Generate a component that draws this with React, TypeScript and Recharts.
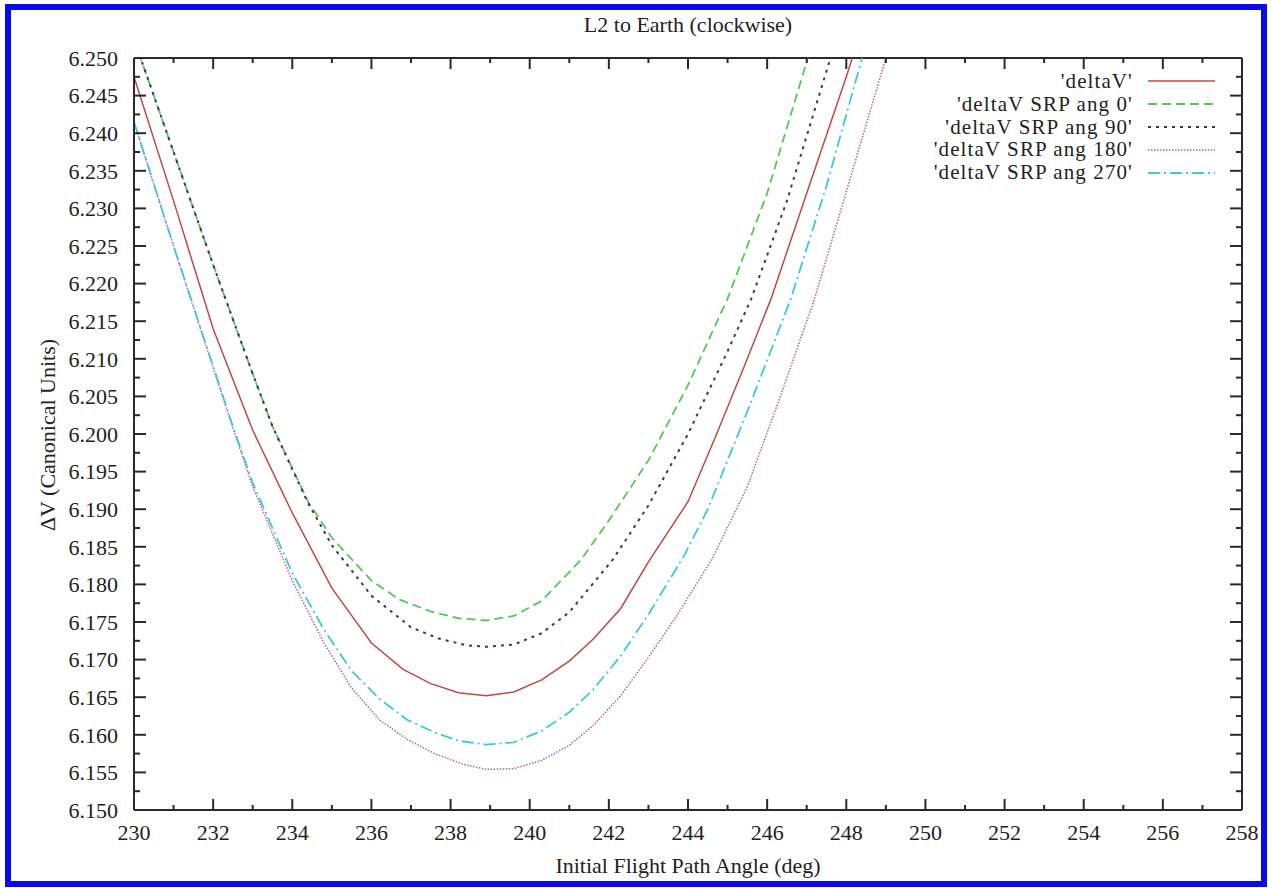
import React from 'react';
import { LineChart, Line, XAxis, YAxis, ReferenceLine, Legend } from 'recharts';

// chart values
const deltaVAngles = [230, 231, 232, 233, 234, 235, 236, 236.8, 237.5, 238.2, 238.9, 239.6, 240.3, 241.0, 241.6, 242.3, 243.0, 244.0, 244.7, 245.4, 246.1, 247.0, 248.0, 248.2];
const deltaVValues = [6.2475, 6.231, 6.214, 6.2005, 6.1895, 6.1795, 6.1722, 6.1687, 6.1668, 6.1656, 6.1652, 6.1657, 6.1673, 6.1698, 6.1727, 6.1768, 6.183, 6.191, 6.1997, 6.2087, 6.218, 6.232, 6.2475, 6.2508];

const srp0Angles = [230, 231, 232, 233, 233.5, 234.4, 235, 236, 236.7, 237.5, 238.2, 238.9, 239.6, 240.3, 241.3, 242, 243, 244, 245, 246, 247, 247.2];
const srp0Values = [6.2525, 6.2375, 6.2225, 6.208, 6.201, 6.191, 6.1862, 6.1805, 6.178, 6.1764, 6.1755, 6.1752, 6.1758, 6.1778, 6.1833, 6.1885, 6.1965, 6.2065, 6.218, 6.232, 6.2495, 6.2535];

const srp90Angles = [230, 231, 232, 233, 233.5, 234.4, 235, 236, 237, 237.7, 238.4, 238.9, 239.6, 240.3, 241, 242.1, 243, 244, 245, 245.6, 246.5, 247.6, 247.8];
const srp90Values = [6.2525, 6.2375, 6.2225, 6.208, 6.201, 6.1908, 6.1852, 6.1785, 6.1743, 6.1728, 6.1719, 6.1717, 6.172, 6.1735, 6.1763, 6.1833, 6.1905, 6.2, 6.211, 6.218, 6.231, 6.25, 6.2535];

const srp180Angles = [230, 231, 232, 232.5, 233, 234, 234.8, 235.5, 236.2, 236.9, 237.6, 238.3, 238.9, 239.6, 240.3, 241, 241.6, 242.3, 243, 243.7, 244.6, 245.5, 246.3, 247.2, 248.1, 249, 249.2];
const srp180Values = [6.2415, 6.225, 6.2088, 6.2008, 6.193, 6.1805, 6.1722, 6.1662, 6.162, 6.1594, 6.1575, 6.1561, 6.1554, 6.1555, 6.1566, 6.1586, 6.1612, 6.1652, 6.1703, 6.1757, 6.1833, 6.193, 6.2045, 6.218, 6.234, 6.25, 6.2535];

const srp270Angles = [230, 231, 232, 232.5, 233, 234, 234.8, 235.5, 236.2, 236.9, 237.6, 238.2, 238.9, 239.6, 240.3, 241, 241.6, 242.3, 243, 243.9, 244.5, 245.5, 246.6, 247.5, 248.4, 248.6];
const srp270Values = [6.2415, 6.225, 6.209, 6.201, 6.1935, 6.1815, 6.174, 6.1685, 6.1648, 6.162, 6.1603, 6.1592, 6.1587, 6.159, 6.1605, 6.163, 6.166, 6.1705, 6.176, 6.1838, 6.19, 6.203, 6.218, 6.233, 6.25, 6.2535];

const xTicks = [230, 231, 232, 233, 234, 235, 236, 237, 238, 239, 240, 241, 242, 243, 244, 245, 246, 247, 248, 249, 250, 251, 252, 253, 254, 255, 256, 257, 258];
const yTicks = [
  6.15, 6.1525, 6.155, 6.1575, 6.16, 6.1625, 6.165, 6.1675, 6.17, 6.1725,
  6.175, 6.1775, 6.18, 6.1825, 6.185, 6.1875, 6.19, 6.1925, 6.195, 6.1975,
  6.2, 6.2025, 6.205, 6.2075, 6.21, 6.2125, 6.215, 6.2175, 6.22, 6.2225,
  6.225, 6.2275, 6.23, 6.2325, 6.235, 6.2375, 6.24, 6.2425, 6.245, 6.2475, 6.25,
];

const toPoints = (xs: number[], ys: number[]) => xs.map((x, i) => ({ x, y: ys[i] }));

const series = [
  { name: "'deltaV'", data: toPoints(deltaVAngles, deltaVValues), color: '#bf4a44', dash: undefined, width: 1.5 },
  { name: "'deltaV SRP ang 0'", data: toPoints(srp0Angles, srp0Values), color: '#55c855', dash: '9 5', width: 1.8 },
  { name: "'deltaV SRP ang 90'", data: toPoints(srp90Angles, srp90Values), color: '#3a3a5a', dash: '3 5', width: 2 },
  { name: "'deltaV SRP ang 180'", data: toPoints(srp180Angles, srp180Values), color: '#b060b0', dash: '1.5 1.5', width: 1.5 },
  { name: "'deltaV SRP ang 270'", data: toPoints(srp270Angles, srp270Values), color: '#40c8d8', dash: '12 4 2 4', width: 1.8 },
];

const W = 1272;
const H = 888;
const plot = { left: 134, top: 58, right: 1242, bottom: 810 };
const plotW = plot.right - plot.left;
const plotH = plot.bottom - plot.top;
const font = 'Liberation Serif, Times New Roman, serif';
const axisColor = '#2a2a2a';

const XTick = ({ x, y, payload }: any) => {
  const v = payload.value;
  const major = v % 2 === 0;
  const len = major ? 11 : 5;
  return (
    <g>
      <line x1={x} x2={x} y1={y} y2={y - len} stroke={axisColor} strokeWidth={2} />
      <line x1={x} x2={x} y1={y - plotH} y2={y - plotH + len} stroke={axisColor} strokeWidth={2} />
      {major && (
        <text x={x} y={y + 30} textAnchor="middle" fontFamily={font} fontSize={22} fill="#222">
          {v}
        </text>
      )}
    </g>
  );
};

const YTick = ({ x, y, payload }: any) => {
  const v = payload.value;
  const k = Math.round((v - 6.15) / 0.0025);
  const major = k % 2 === 0;
  const len = major ? 12 : 6;
  return (
    <g>
      <line x1={x} x2={x + len} y1={y} y2={y} stroke={axisColor} strokeWidth={2} />
      <line x1={x + plotW} x2={x + plotW - len} y1={y} y2={y} stroke={axisColor} strokeWidth={2} />
      {major && (
        <text x={x - 16} y={y} dy="0.35em" textAnchor="end" fontFamily={font} fontSize={22} fill="#222">
          {v.toFixed(3)}
        </text>
      )}
    </g>
  );
};

const LegendBox = () => (
  <div style={{ fontFamily: font, fontSize: 21, color: '#222' }}>
    {series.map((s) => (
      <div
        key={s.name}
        style={{ display: 'flex', alignItems: 'center', justifyContent: 'flex-end', height: 22.8, whiteSpace: 'nowrap' }}
      >
        <span style={{ fontFamily: font, fontSize: 21, letterSpacing: '1.1px' }}>{s.name}</span>
        <svg width={82} height={10} style={{ display: 'block' }}>
          <line x1={15} x2={82} y1={5} y2={5} stroke={s.color} strokeWidth={s.width} strokeDasharray={s.dash} />
        </svg>
      </div>
    ))}
  </div>
);

const App = () => {
  return (
    <div style={{ position: 'absolute', left: 0, top: 0, width: W, height: H, background: '#fff' }}>
      <div
        style={{
          position: 'absolute',
          left: 5,
          top: 4,
          width: 1262,
          height: 883,
          border: '6px solid #0a0aee',
          boxSizing: 'border-box',
        }}
      />
      <div
        style={{
          position: 'absolute',
          left: plot.left,
          width: plotW,
          top: 12,
          textAlign: 'center',
          fontFamily: font,
          fontSize: 22,
          color: '#222',
        }}
      >
        L2 to Earth (clockwise)
      </div>
      <div
        style={{
          position: 'absolute',
          left: plot.left,
          width: plotW,
          top: 853,
          textAlign: 'center',
          fontFamily: font,
          fontSize: 22,
          color: '#222',
        }}
      >
        Initial Flight Path Angle (deg)
      </div>
      <div
        style={{
          position: 'absolute',
          left: 48,
          top: 435,
          transform: 'translate(-50%, -50%) rotate(-90deg)',
          whiteSpace: 'nowrap',
          fontFamily: font,
          fontSize: 22,
          color: '#222',
        }}
      >
        ΔV (Canonical Units)
      </div>
      <div style={{ position: 'absolute', left: 0, top: 0 }}>
        <LineChart
          width={W}
          height={H}
          margin={{ top: plot.top, right: W - plot.right, bottom: H - plot.bottom - 1, left: plot.left - 1 }}
        >
          <XAxis
            dataKey="x"
            type="number"
            domain={[230, 258]}
            ticks={xTicks}
            interval={0}
            allowDataOverflow
            height={1}
            tickSize={0}
            tickMargin={0}
            tickLine={false}
            tick={<XTick />}
            axisLine={{ stroke: axisColor, strokeWidth: 2 }}
          />
          <YAxis
            dataKey="y"
            type="number"
            domain={[6.15, 6.25]}
            ticks={yTicks}
            interval={0}
            allowDataOverflow
            width={1}
            tickSize={0}
            tickMargin={0}
            tickLine={false}
            tick={<YTick />}
            axisLine={{ stroke: axisColor, strokeWidth: 2 }}
          />
          <ReferenceLine y={6.25} stroke={axisColor} strokeWidth={2} />
          <ReferenceLine x={258} stroke={axisColor} strokeWidth={2} />
          {series.map((s) => (
            <Line
              key={s.name}
              name={s.name}
              data={s.data}
              dataKey="y"
              type="linear"
              stroke={s.color}
              strokeWidth={s.width}
              strokeDasharray={s.dash}
              dot={false}
              activeDot={false}
              isAnimationActive={false}
            />
          ))}
          <Legend
            layout="horizontal"
            verticalAlign="middle"
            align="center"
            content={() => <LegendBox />}
            wrapperStyle={{ position: 'absolute', left: 880, top: 70, width: 335 }}
          />
        </LineChart>
      </div>
    </div>
  );
};

export default App;
